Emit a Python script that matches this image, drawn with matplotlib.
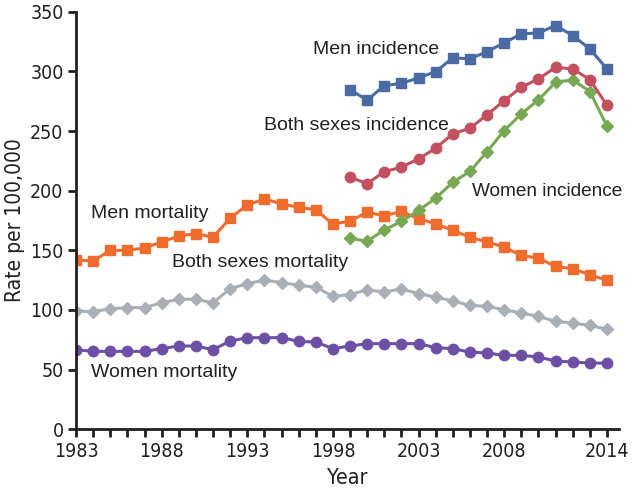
import matplotlib
matplotlib.use("Agg")
import matplotlib.pyplot as plt
import numpy as np

years_mort = list(range(1983, 2015))
years_inc = list(range(1999, 2015))

men_mortality = [142, 141, 150, 150, 152, 157, 162, 164, 161, 177, 188, 193, 189, 186, 184, 172,
                 174.5, 182, 179, 182.6, 176.5, 172.3, 166.7, 161, 157, 152.7, 145.7, 143.5, 136.5, 134.6, 129.6, 124.8]
both_mortality = [99, 98.7, 101, 102, 102, 106, 109, 109, 106, 118, 122, 125, 123, 120.6, 119.2, 111.4,
                  112.8, 117, 115, 117.8, 113.6, 110.8, 107.5, 103.9, 103, 100.2, 97.4, 94.6, 90.5, 89, 87.1, 83.8]
women_mortality = [66.7, 65.3, 65.3, 65.3, 65.3, 67.6, 69.8, 69.8, 66.7, 74, 76.8, 76.8, 76.8, 73.7, 73.1, 67.6,
                   69.8, 71.8, 71.8, 71.8, 71.8, 68.4, 67.6, 64.7, 63.9, 62, 62, 60.6, 57.2, 56.4, 55.5, 55.5]
men_incidence = [284.5, 276, 288, 290, 294.5, 299.8, 311.3, 310.5, 316.6, 323.9, 331.4, 332.2, 338.4, 330, 318.8, 302]
both_incidence = [211.3, 205.8, 216, 219.7, 226.7, 235.6, 247.7, 252.3, 263.6, 275.5, 286.7, 293.7, 303.4, 302, 293.1, 271.4]
women_incidence = [160.2, 157.5, 167.2, 174.2, 183.4, 193.7, 207.1, 216.1, 232.8, 250.4, 264.4, 276.1, 290.9, 292.9, 283.1, 254]

xtick_labels = [1983, 1988, 1993, 1998, 2003, 2008, 2014]
yticks = [0, 50, 100, 150, 200, 250, 300, 350]

c_men_inc = "#4a6aa3"
c_both_inc = "#c2505f"
c_women_inc = "#77a955"
c_men_mort = "#f06c2c"
c_both_mort = "#a9afb7"
c_women_mort = "#6d4fa6"
txt = "#231f20"

fig = plt.figure(figsize=(6.32, 4.95), dpi=100)
ax = fig.add_axes([76/632, 1 - 429.3/495, (619-76)/632, (429.3-11.7)/495])

lw = 2.2
ax.plot(years_mort, men_mortality, color=c_men_mort, marker="s", ms=6.8, lw=lw)
ax.plot(years_mort, both_mortality, color=c_both_mort, marker="D", ms=6.5, lw=lw)
ax.plot(years_mort, women_mortality, color=c_women_mort, marker="o", ms=7.5, lw=lw)
ax.plot(years_inc, women_incidence, color=c_women_inc, marker="D", ms=6.5, lw=lw)
ax.plot(years_inc, both_incidence, color=c_both_inc, marker="o", ms=7.5, lw=lw)
ax.plot(years_inc, men_incidence, color=c_men_inc, marker="s", ms=6.8, lw=lw)

fs = 14
lab_font = ["Liberation Sans", "DejaVu Sans"]
ax.text(1996.86, 318, "Men incidence", fontsize=fs, color=txt, va="center", family=lab_font)
ax.text(1994.0, 255, "Both sexes incidence", fontsize=fs, color=txt, va="center", family=lab_font)
ax.text(2006.1, 199, "Women incidence", fontsize=13.7, color=txt, va="center", family=lab_font)
ax.text(1983.9, 181, "Men mortality", fontsize=fs, color=txt, va="center", family=lab_font)
ax.text(1988.6, 139.4, "Both sexes mortality", fontsize=fs, color=txt, va="center", family=lab_font)
ax.text(1983.9, 48, "Women mortality", fontsize=fs, color=txt, va="center", family=lab_font)

ax.set_xlim(1983, 2014.7)
ax.set_ylim(0, 350)
ax.set_xticks(range(1983, 2015))
ax.set_xticklabels([str(y) if y in xtick_labels else "" for y in range(1983, 2015)])
ax.set_yticks(yticks)

tick_font = ["DejaVu Sans"]
for lbl in ax.get_xticklabels() + ax.get_yticklabels():
    lbl.set_family(tick_font)
    lbl.set_stretch("condensed")
    lbl.set_fontsize(14)
    lbl.set_color(txt)

for s in ["top", "right"]:
    ax.spines[s].set_visible(False)
for s in ["left", "bottom"]:
    ax.spines[s].set_linewidth(2)
    ax.spines[s].set_color(txt)
ax.tick_params(axis="both", direction="out", width=2, length=6, color=txt, pad=3)

ax.set_xlabel("Year", fontsize=15.5, family=tick_font, fontstretch="condensed", color=txt, labelpad=5)
ax.set_ylabel("Rate per 100,000", fontsize=15, family=tick_font, fontstretch="condensed", color=txt, labelpad=4)

fig.savefig("out.png", dpi=100)
